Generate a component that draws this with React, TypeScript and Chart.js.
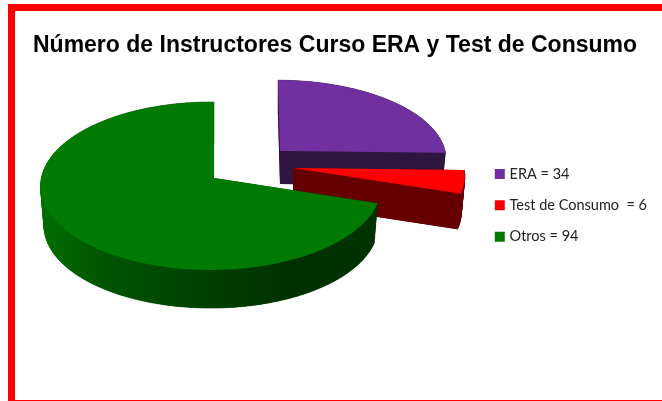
import React, { useEffect, useRef } from "react";
import { Chart, registerables } from "chart.js";

Chart.register(...registerables);

const categories = ["ERA", "Test de Consumo ", "Otros"];
const values = [34, 6, 94];
const titleText = "Número de Instructores Curso ERA y Test de Consumo";
const legendLabels = categories.map((c, i) => `${c} = ${values[i]}`);

const topColors = ["#7030a0", "#ff0000", "#007a00"];
const wallColors = ["#2e1640", "#660000", "#003a00"];

// Projection of the exploded 3D slices: apex pixel, radii, skew, wall depth
const sliceViews = [
  { x: 280, y: 151, rx: 165, ry: 77.5, depth: 33, skew: 2, lean: 0 },
  { x: 293, y: 168, rx: 171, ry: 83, depth: 36, skew: 0, lean: 0 },
  { x: 214, y: 178, rx: 169.5, ry: 83.2, depth: 40, skew: 0, lean: 0.018 },
];
const PERSPECTIVE = 0.095;
const WALL_SHRINK = 0.02;

function project(view: any, angle: number, h: number) {
  const u = Math.cos(angle);
  const v = Math.sin(angle);
  const w = 1 - PERSPECTIVE * v + view.lean * u;
  const s = 1 - WALL_SHRINK * h;
  return {
    x: view.x + (view.rx * s * u) / w + view.skew * v,
    y: view.y + (view.ry * s * v) / w + view.depth * h,
  };
}

function arcPoints(view: any, a0: number, a1: number, h: number) {
  const n = Math.max(2, Math.ceil(((a1 - a0) * 180) / Math.PI));
  const pts: { x: number; y: number }[] = [];
  for (let i = 0; i <= n; i++) pts.push(project(view, a0 + ((a1 - a0) * i) / n, h));
  return pts;
}

function fillPoly(ctx: CanvasRenderingContext2D, pts: { x: number; y: number }[], style: any, seal = false) {
  ctx.beginPath();
  pts.forEach((p, i) => (i ? ctx.lineTo(p.x, p.y) : ctx.moveTo(p.x, p.y)));
  ctx.closePath();
  ctx.fillStyle = style;
  ctx.fill();
  if (seal) {
    ctx.strokeStyle = style;
    ctx.lineWidth = 0.5;
    ctx.stroke();
  }
}

const pie3d = {
  id: "pie3d",
  afterLayout(chart: any) {
    const lg = chart.legend;
    lg.left = 480.5;
    lg.right = 662;
    lg.top = 150;
    lg.bottom = 330;
  },
  beforeDatasetsDraw(chart: any) {
    const ctx: CanvasRenderingContext2D = chart.ctx;
    const arcs = chart.getDatasetMeta(0).data;
    arcs.forEach((arc: any, i: number) => {
      const view = sliceViews[i];
      const { startAngle, endAngle } = arc.getProps(["startAngle", "endAngle"], true);
      const top = arcPoints(view, startAngle, endAngle, 0);
      const bottom = arcPoints(view, startAngle, endAngle, 1);
      const apex0 = { x: view.x, y: view.y };
      const apex1 = { x: view.x, y: view.y + view.depth };
      let wall: any = wallColors[i];
      if (i === 2) {
        const g = ctx.createLinearGradient(40, 0, 378, 0);
        g.addColorStop(0, "#006e00");
        g.addColorStop(0.18, "#005600");
        g.addColorStop(0.5, "#004000");
        g.addColorStop(0.75, "#003000");
        g.addColorStop(1, "#003300");
        wall = g;
      }
      fillPoly(ctx, [apex1, ...bottom], wall);
      for (let k = 0; k < top.length - 1; k++) {
        fillPoly(ctx, [top[k], top[k + 1], bottom[k + 1], bottom[k]], wall, true);
      }
      fillPoly(ctx, [apex0, apex1, bottom[0], top[0]], wall);
      fillPoly(ctx, [apex0, apex1, bottom[bottom.length - 1], top[top.length - 1]], wall);
      fillPoly(ctx, [apex0, ...top], topColors[i]);
    });
    return false;
  },
};

export default function App() {
  const ref = useRef<HTMLCanvasElement>(null);
  useEffect(() => {
    const chart = new Chart(ref.current as HTMLCanvasElement, {
      type: "pie",
      data: {
        labels: legendLabels,
        datasets: [
          { data: values, backgroundColor: topColors, borderColor: topColors, borderWidth: 5 },
        ],
      },
      options: {
        responsive: false,
        animation: false,
        layout: { padding: { left: 8, right: 0, top: 0, bottom: 0 } },
        plugins: {
          tooltip: { enabled: false },
          title: {
            display: true,
            text: titleText,
            color: "#000000",
            font: { family: "'Liberation Sans'", size: 23, weight: "bold" },
            padding: { top: 32, bottom: 10 },
          },
          legend: {
            display: true,
            position: "right",
            align: "start",
            labels: {
              boxWidth: 5,
              boxHeight: 5,
              padding: 16.8,
              color: "#222222",
              font: { family: "Lato", size: 14.5 },
            },
          },
        },
      },
      plugins: [pie3d],
    } as any);
    return () => chart.destroy();
  }, []);
  return (
    <div
      style={{
        position: "fixed",
        left: 8,
        top: 4,
        width: 654,
        height: 397,
        boxSizing: "border-box",
        borderLeft: "7px solid #ff0000",
        borderTop: "7px solid #ff0000",
        borderBottom: "1px solid #ff0000",
      }}
    >
      <canvas
        ref={ref}
        width={662}
        height={401}
        style={{ position: "fixed", left: 0, top: 0, display: "block" }}
      />
    </div>
  );
}
